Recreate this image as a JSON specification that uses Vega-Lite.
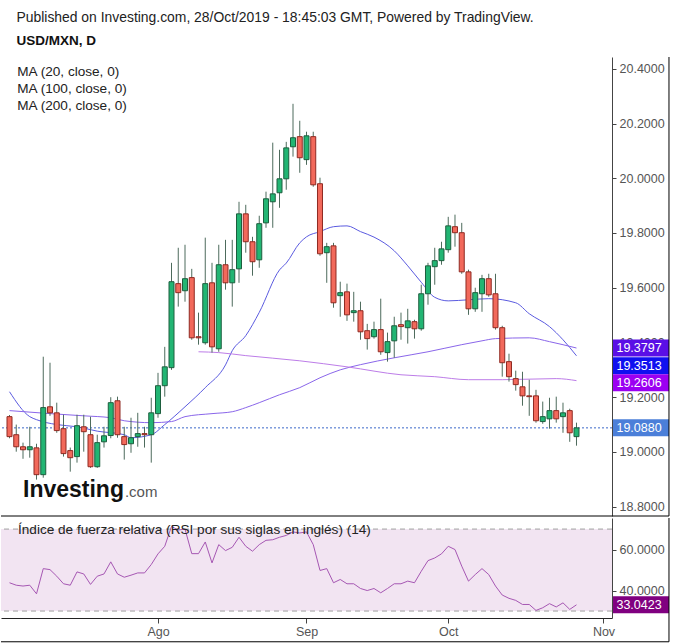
{
  "$schema": "https://vega.github.io/schema/vega-lite/v6.json",
  "padding": {"left": 0, "top": 11, "right": 0, "bottom": 0},
  "background": "white",
  "title": {"text": "Published on Investing.com, 28/Oct/2019 - 18:45:03 GMT, Powered by TradingView.", "subtitle": "USD/MXN, D", "anchor": "start", "dx": 16, "fontSize": 13.9, "fontWeight": "normal", "font": "Liberation Sans", "color": "#222222", "subtitleFontSize": 13.5, "subtitleFontWeight": "bold", "subtitleColor": "#111111", "subtitleFont": "Liberation Sans", "subtitlePadding": 9, "offset": 9},
  "spacing": 0,
  "config": {"view": {"stroke": null}, "font": "Liberation Sans", "axis": {"labelFont": "Liberation Sans", "labelFontSize": 12.5, "labelColor": "#555555", "domainColor": "#444444", "tickColor": "#444444", "grid": false, "title": null}},
  "datasets": {
    "one": [{}],
    "candles": [
      {"i":0,"o":19.129,"h":19.135,"l":19.05,"c":19.056},
      {"i":1,"o":19.063,"h":19.100,"l":19.001,"c":19.019},
      {"i":2,"o":19.019,"h":19.034,"l":18.975,"c":19.008},
      {"i":3,"o":19.008,"h":19.092,"l":18.979,"c":19.019},
      {"i":4,"o":19.015,"h":19.03,"l":18.899,"c":18.917},
      {"i":5,"o":18.917,"h":19.348,"l":18.906,"c":19.162},
      {"i":6,"o":19.165,"h":19.326,"l":19.132,"c":19.143},
      {"i":7,"o":19.143,"h":19.180,"l":19.070,"c":19.078},
      {"i":8,"o":19.085,"h":19.136,"l":18.983,"c":18.994},
      {"i":9,"o":19.005,"h":19.016,"l":18.928,"c":18.979},
      {"i":10,"o":18.983,"h":19.136,"l":18.961,"c":19.096},
      {"i":11,"o":19.092,"h":19.136,"l":19.001,"c":19.074},
      {"i":12,"o":19.063,"h":19.129,"l":18.942,"c":18.946},
      {"i":13,"o":18.946,"h":19.063,"l":18.942,"c":19.034},
      {"i":14,"o":19.037,"h":19.092,"l":19.016,"c":19.059},
      {"i":15,"o":19.06,"h":19.20,"l":19.05,"c":19.18},
      {"i":16,"o":19.187,"h":19.202,"l":19.052,"c":19.063},
      {"i":17,"o":19.056,"h":19.092,"l":18.972,"c":19.027},
      {"i":18,"o":19.030,"h":19.125,"l":18.997,"c":19.052},
      {"i":19,"o":19.056,"h":19.143,"l":19.019,"c":19.067},
      {"i":20,"o":19.067,"h":19.092,"l":19.016,"c":19.063},
      {"i":21,"o":19.063,"h":19.198,"l":18.961,"c":19.143},
      {"i":22,"o":19.140,"h":19.289,"l":19.125,"c":19.242},
      {"i":23,"o":19.242,"h":19.384,"l":19.202,"c":19.311},
      {"i":24,"o":19.308,"h":19.691,"l":19.30,"c":19.622},
      {"i":25,"o":19.615,"h":19.746,"l":19.531,"c":19.582},
      {"i":26,"o":19.589,"h":19.757,"l":19.549,"c":19.633},
      {"i":27,"o":19.637,"h":19.669,"l":19.410,"c":19.417},
      {"i":28,"o":19.421,"h":19.509,"l":19.392,"c":19.417},
      {"i":29,"o":19.399,"h":19.783,"l":19.392,"c":19.615},
      {"i":30,"o":19.618,"h":19.691,"l":19.363,"c":19.384},
      {"i":31,"o":19.377,"h":19.757,"l":19.366,"c":19.684},
      {"i":32,"o":19.684,"h":19.775,"l":19.593,"c":19.618},
      {"i":33,"o":19.618,"h":19.775,"l":19.531,"c":19.666},
      {"i":34,"o":19.669,"h":19.914,"l":19.618,"c":19.870},
      {"i":35,"o":19.870,"h":19.903,"l":19.728,"c":19.768},
      {"i":36,"o":19.768,"h":19.786,"l":19.644,"c":19.695},
      {"i":37,"o":19.702,"h":19.863,"l":19.673,"c":19.834},
      {"i":38,"o":19.837,"h":19.951,"l":19.819,"c":19.925},
      {"i":39,"o":19.914,"h":20.130,"l":19.819,"c":19.943},
      {"i":40,"o":19.947,"h":20.104,"l":19.892,"c":19.998},
      {"i":41,"o":19.998,"h":20.133,"l":19.958,"c":20.111},
      {"i":42,"o":20.115,"h":20.272,"l":20.079,"c":20.148},
      {"i":43,"o":20.152,"h":20.210,"l":20.020,"c":20.075},
      {"i":44,"o":20.068,"h":20.170,"l":20.049,"c":20.155},
      {"i":45,"o":20.152,"h":20.170,"l":19.969,"c":19.976},
      {"i":46,"o":19.980,"h":20.002,"l":19.717,"c":19.724},
      {"i":47,"o":19.728,"h":19.764,"l":19.618,"c":19.750},
      {"i":48,"o":19.753,"h":19.764,"l":19.527,"c":19.545},
      {"i":49,"o":19.571,"h":19.622,"l":19.494,"c":19.582},
      {"i":50,"o":19.585,"h":19.615,"l":19.479,"c":19.501},
      {"i":51,"o":19.509,"h":19.585,"l":19.476,"c":19.516},
      {"i":52,"o":19.516,"h":19.549,"l":19.410,"c":19.439},
      {"i":53,"o":19.443,"h":19.468,"l":19.374,"c":19.414},
      {"i":54,"o":19.421,"h":19.476,"l":19.414,"c":19.447},
      {"i":55,"o":19.447,"h":19.560,"l":19.355,"c":19.366},
      {"i":56,"o":19.363,"h":19.436,"l":19.330,"c":19.403},
      {"i":57,"o":19.406,"h":19.494,"l":19.344,"c":19.461},
      {"i":58,"o":19.465,"h":19.509,"l":19.410,"c":19.458},
      {"i":59,"o":19.454,"h":19.523,"l":19.396,"c":19.479},
      {"i":60,"o":19.476,"h":19.483,"l":19.414,"c":19.450},
      {"i":61,"o":19.450,"h":19.611,"l":19.443,"c":19.578},
      {"i":62,"o":19.578,"h":19.691,"l":19.538,"c":19.680},
      {"i":63,"o":19.677,"h":19.746,"l":19.611,"c":19.699},
      {"i":64,"o":19.699,"h":19.768,"l":19.684,"c":19.742},
      {"i":65,"o":19.739,"h":19.859,"l":19.728,"c":19.826},
      {"i":66,"o":19.823,"h":19.867,"l":19.750,"c":19.801},
      {"i":67,"o":19.801,"h":19.837,"l":19.651,"c":19.658},
      {"i":68,"o":19.658,"h":19.666,"l":19.501,"c":19.523},
      {"i":69,"o":19.523,"h":19.600,"l":19.512,"c":19.582},
      {"i":70,"o":19.578,"h":19.647,"l":19.512,"c":19.633},
      {"i":71,"o":19.633,"h":19.651,"l":19.567,"c":19.574},
      {"i":72,"o":19.578,"h":19.651,"l":19.447,"c":19.454},
      {"i":73,"o":19.454,"h":19.461,"l":19.275,"c":19.326},
      {"i":74,"o":19.330,"h":19.359,"l":19.257,"c":19.275},
      {"i":75,"o":19.268,"h":19.297,"l":19.224,"c":19.246},
      {"i":76,"o":19.238,"h":19.293,"l":19.169,"c":19.205},
      {"i":77,"o":19.205,"h":19.264,"l":19.132,"c":19.202},
      {"i":78,"o":19.205,"h":19.227,"l":19.107,"c":19.114},
      {"i":79,"o":19.111,"h":19.184,"l":19.103,"c":19.129},
      {"i":80,"o":19.121,"h":19.198,"l":19.085,"c":19.151},
      {"i":81,"o":19.151,"h":19.202,"l":19.107,"c":19.121},
      {"i":82,"o":19.129,"h":19.180,"l":19.070,"c":19.143},
      {"i":83,"o":19.151,"h":19.158,"l":19.037,"c":19.070},
      {"i":84,"o":19.056,"h":19.107,"l":19.023,"c":19.088}
    ],
    "ma": [
      {"ma":"MA20","i":0,"v":19.220},{"ma":"MA20","i":3,"v":19.129},{"ma":"MA20","i":4,"v":19.118},{"ma":"MA20","i":7,"v":19.100},
      {"ma":"MA20","i":10,"v":19.092},{"ma":"MA20","i":13,"v":19.076},{"ma":"MA20","i":17,"v":19.063},{"ma":"MA20","i":18,"v":19.052},
      {"ma":"MA20","i":21,"v":19.063},{"ma":"MA20","i":23,"v":19.100},{"ma":"MA20","i":26,"v":19.165},{"ma":"MA20","i":29,"v":19.235},
      {"ma":"MA20","i":32,"v":19.318},{"ma":"MA20","i":33,"v":19.37},{"ma":"MA20","i":35,"v":19.425},{"ma":"MA20","i":37,"v":19.51},
      {"ma":"MA20","i":40,"v":19.665},{"ma":"MA20","i":41,"v":19.69},{"ma":"MA20","i":43,"v":19.764},{"ma":"MA20","i":44,"v":19.786},
      {"ma":"MA20","i":46,"v":19.805},{"ma":"MA20","i":48,"v":19.823},{"ma":"MA20","i":50,"v":19.826},{"ma":"MA20","i":52,"v":19.805},
      {"ma":"MA20","i":54,"v":19.785},{"ma":"MA20","i":57,"v":19.735},{"ma":"MA20","i":59,"v":19.68},{"ma":"MA20","i":61,"v":19.62},
      {"ma":"MA20","i":63,"v":19.565},{"ma":"MA20","i":65,"v":19.552},{"ma":"MA20","i":68,"v":19.556},{"ma":"MA20","i":71,"v":19.560},
      {"ma":"MA20","i":75,"v":19.545},{"ma":"MA20","i":77,"v":19.505},{"ma":"MA20","i":80,"v":19.458},{"ma":"MA20","i":82,"v":19.41},
      {"ma":"MA20","i":84,"v":19.3513},
      {"ma":"MA100","i":0,"v":19.151},{"ma":"MA100","i":6,"v":19.140},{"ma":"MA100","i":11,"v":19.132},{"ma":"MA100","i":15,"v":19.125},
      {"ma":"MA100","i":17,"v":19.114},{"ma":"MA100","i":21,"v":19.107},{"ma":"MA100","i":24,"v":19.111},{"ma":"MA100","i":26,"v":19.129},
      {"ma":"MA100","i":30,"v":19.140},{"ma":"MA100","i":33,"v":19.147},{"ma":"MA100","i":35,"v":19.162},{"ma":"MA100","i":37,"v":19.180},
      {"ma":"MA100","i":40,"v":19.209},{"ma":"MA100","i":43,"v":19.235},{"ma":"MA100","i":46,"v":19.271},{"ma":"MA100","i":49,"v":19.300},
      {"ma":"MA100","i":52,"v":19.319},{"ma":"MA100","i":57,"v":19.344},{"ma":"MA100","i":62,"v":19.366},{"ma":"MA100","i":67,"v":19.392},
      {"ma":"MA100","i":70,"v":19.406},{"ma":"MA100","i":72,"v":19.414},{"ma":"MA100","i":77,"v":19.417},{"ma":"MA100","i":80,"v":19.403},
      {"ma":"MA100","i":84,"v":19.3797},
      {"ma":"MA200","i":28,"v":19.366},{"ma":"MA200","i":31,"v":19.363},{"ma":"MA200","i":35,"v":19.352},{"ma":"MA200","i":43,"v":19.333},
      {"ma":"MA200","i":50,"v":19.311},{"ma":"MA200","i":58,"v":19.282},{"ma":"MA200","i":63,"v":19.275},{"ma":"MA200","i":68,"v":19.264},
      {"ma":"MA200","i":73,"v":19.264},{"ma":"MA200","i":81,"v":19.268},{"ma":"MA200","i":84,"v":19.2606}
    ],
    "rsi": [
      {"i":0,"r":43.8},{"i":1,"r":42.6},{"i":2,"r":42.2},{"i":3,"r":42.6},{"i":4,"r":38.4},{"i":5,"r":50.7},{"i":6,"r":50.2},
      {"i":7,"r":47},{"i":8,"r":43.3},{"i":9,"r":42.6},{"i":10,"r":49.1},{"i":11,"r":48.1},{"i":12,"r":43},{"i":13,"r":47},
      {"i":14,"r":48.1},{"i":15,"r":54},{"i":16,"r":48.1},{"i":17,"r":46.5},{"i":18,"r":47.5},{"i":19,"r":48.6},{"i":20,"r":48.6},
      {"i":21,"r":52.7},{"i":22,"r":57.9},{"i":23,"r":61.6},{"i":24,"r":71.3},{"i":25,"r":69.5},{"i":26,"r":70},{"i":27,"r":58},
      {"i":28,"r":58},{"i":29,"r":63.7},{"i":30,"r":53.5},{"i":31,"r":62.4},{"i":32,"r":59.5},{"i":33,"r":61.1},{"i":34,"r":66},
      {"i":35,"r":61.6},{"i":36,"r":59.2},{"i":37,"r":62.4},{"i":38,"r":64.5},{"i":39,"r":64.8},{"i":40,"r":66},{"i":41,"r":66.9},
      {"i":42,"r":68.6},{"i":43,"r":68.1},{"i":44,"r":68.6},{"i":45,"r":62.4},{"i":46,"r":49.8},{"i":47,"r":50.7},{"i":48,"r":43.8},
      {"i":49,"r":45.4},{"i":50,"r":43.3},{"i":51,"r":43.3},{"i":52,"r":41},{"i":53,"r":40},{"i":54,"r":41},{"i":55,"r":38.9},
      {"i":56,"r":41},{"i":57,"r":43.3},{"i":58,"r":43.3},{"i":59,"r":44.6},{"i":60,"r":43.8},{"i":61,"r":49.4},{"i":62,"r":54.6},
      {"i":63,"r":55.9},{"i":64,"r":57.9},{"i":65,"r":61.6},{"i":66,"r":60},{"i":67,"r":51.9},{"i":68,"r":44.6},{"i":69,"r":47.8},
      {"i":70,"r":50.7},{"i":71,"r":47.8},{"i":72,"r":42.2},{"i":73,"r":37.8},{"i":74,"r":36.2},{"i":75,"r":35.2},{"i":76,"r":33.2},
      {"i":77,"r":33.2},{"i":78,"r":30.3},{"i":79,"r":31.6},{"i":80,"r":33.6},{"i":81,"r":32},{"i":82,"r":34},{"i":83,"r":30.8},
      {"i":84,"r":33.0423}
    ]
  },
  "vconcat": [
    {
      "width": 611,
      "height": 459,
      "layer": [
        {
          "data": {"name": "ma"},
          "mark": {"type": "line", "interpolate": "monotone", "strokeWidth": 1},
          "encoding": {
            "x": {"field": "i", "type": "quantitative", "scale": {"domain": [-1.26, 89.26], "nice": false, "zero": false, "padding": 0}, "axis": null},
            "y": {"field": "v", "type": "quantitative", "scale": {"domain": [18.766, 20.443], "nice": false, "zero": false, "padding": 0},
                  "axis": {"orient": "right", "values": [18.8, 19.0, 19.2, 19.4, 19.6, 19.8, 20.0, 20.2, 20.4], "format": ".4f", "tickSize": 4, "labelPadding": 3}},
            "color": {"field": "ma", "type": "nominal", "scale": {"domain": ["MA20", "MA100", "MA200"], "range": ["#5b5be0", "#8a66ea", "#bd7de8"]}, "legend": null}
          }
        },
        {
          "data": {"name": "one"},
          "mark": {"type": "rule", "color": "#3a68c8", "strokeDash": [2, 2], "strokeWidth": 1},
          "encoding": {"y": {"datum": 19.088}}
        },
        {
          "data": {"name": "candles"},
          "mark": {"type": "rule", "color": "#4d6b5c", "strokeWidth": 1},
          "encoding": {
            "x": {"field": "i", "type": "quantitative", "axis": null},
            "y": {"field": "l", "type": "quantitative"},
            "y2": {"field": "h"}
          }
        },
        {
          "data": {"name": "candles"},
          "mark": {"type": "bar", "width": 5, "strokeWidth": 1},
          "encoding": {
            "x": {"field": "i", "type": "quantitative", "axis": null},
            "y": {"field": "o", "type": "quantitative"},
            "y2": {"field": "c"},
            "fill": {"condition": {"test": "datum.c >= datum.o", "value": "#22b573"}, "value": "#f2695b"},
            "stroke": {"condition": {"test": "datum.c >= datum.o", "value": "#1d5e3e"}, "value": "#8f2a22"}
          }
        },
        {
          "data": {"name": "one"},
          "mark": {"type": "text", "text": ["MA (20, close, 0)", "MA (100, close, 0)", "MA (200, close, 0)"], "align": "left", "baseline": "top", "fontSize": 13.6, "lineHeight": 17, "color": "#222222"},
          "encoding": {"x": {"datum": 1.15, "axis": null}, "y": {"datum": 20.413}}
        },
        {
          "data": {"name": "one"},
          "mark": {"type": "text", "text": "Investing", "align": "left", "baseline": "alphabetic", "fontSize": 23, "fontWeight": "bold", "color": "#111111"},
          "encoding": {"x": {"datum": 2.0, "axis": null}, "y": {"datum": 18.837}}
        },
        {
          "data": {"name": "one"},
          "mark": {"type": "text", "text": ".com", "align": "left", "baseline": "alphabetic", "fontSize": 15, "color": "#555555"},
          "encoding": {"x": {"datum": 17.1, "axis": null}, "y": {"datum": 18.837}}
        },
        {
          "data": {"name": "one"},
          "mark": {"type": "rect", "color": "#5a0fe6", "yOffset": -8.5, "y2Offset": 8.5},
          "encoding": {"x": {"datum": 89.41, "axis": null}, "x2": {"datum": 97.7}, "y": {"datum": 19.3797}, "y2": {"datum": 19.3797}}
        },
        {
          "data": {"name": "one"},
          "mark": {"type": "text", "text": "19.3797", "align": "left", "baseline": "middle", "fontSize": 12.5, "color": "#ffffff"},
          "encoding": {"x": {"datum": 89.92, "axis": null}, "y": {"datum": 19.3797}}
        },
        {
          "data": {"name": "one"},
          "mark": {"type": "rect", "color": "#1010f0", "yOffset": 1.5, "y2Offset": 18.5},
          "encoding": {"x": {"datum": 89.41, "axis": null}, "x2": {"datum": 97.7}, "y": {"datum": 19.3513}, "y2": {"datum": 19.3513}}
        },
        {
          "data": {"name": "one"},
          "mark": {"type": "text", "text": "19.3513", "align": "left", "baseline": "middle", "fontSize": 12.5, "color": "#ffffff", "dy": 10},
          "encoding": {"x": {"datum": 89.92, "axis": null}, "y": {"datum": 19.3513}}
        },
        {
          "data": {"name": "one"},
          "mark": {"type": "rect", "color": "#9b00f2", "yOffset": -6.5, "y2Offset": 10.5},
          "encoding": {"x": {"datum": 89.41, "axis": null}, "x2": {"datum": 97.7}, "y": {"datum": 19.2606}, "y2": {"datum": 19.2606}}
        },
        {
          "data": {"name": "one"},
          "mark": {"type": "text", "text": "19.2606", "align": "left", "baseline": "middle", "fontSize": 12.5, "color": "#ffffff", "dy": 2},
          "encoding": {"x": {"datum": 89.92, "axis": null}, "y": {"datum": 19.2606}}
        },
        {
          "data": {"name": "one"},
          "mark": {"type": "rect", "color": "#4b7fd9", "yOffset": -8.5, "y2Offset": 8.5},
          "encoding": {"x": {"datum": 89.41, "axis": null}, "x2": {"datum": 97.7}, "y": {"datum": 19.088}, "y2": {"datum": 19.088}}
        },
        {
          "data": {"name": "one"},
          "mark": {"type": "text", "text": "19.0880", "align": "left", "baseline": "middle", "fontSize": 12.5, "color": "#ffffff"},
          "encoding": {"x": {"datum": 89.92, "axis": null}, "y": {"datum": 19.088}}
        },
        {
          "data": {"name": "one"},
          "mark": {"type": "rule", "color": "#000000", "strokeWidth": 1},
          "encoding": {"x": {"datum": -1.26, "axis": null}, "x2": {"datum": 97.7}, "y": {"datum": 18.766}}
        },
        {
          "data": {"name": "one"},
          "mark": {"type": "rule", "color": "#000000", "strokeWidth": 1},
          "encoding": {"x": {"datum": 97.7, "axis": null}, "y": {"datum": 18.766}, "y2": {"datum": 20.443}}
        }
      ]
    },
    {
      "width": 611,
      "height": 100,
      "layer": [
        {
          "data": {"name": "one"},
          "mark": {"type": "rect", "color": "#f2e4f2"},
          "encoding": {
            "x": {"datum": -1.26, "type": "quantitative", "scale": {"domain": [-1.26, 89.26], "nice": false, "zero": false, "padding": 0}},
            "x2": {"datum": 89.26},
            "y": {"datum": 70, "type": "quantitative", "scale": {"domain": [26.6, 75.4], "nice": false, "zero": false, "padding": 0}},
            "y2": {"datum": 30}
          }
        },
        {
          "data": {"values": [{"band": 70}, {"band": 30}]},
          "mark": {"type": "rule", "color": "#a0a0a0", "strokeDash": [5, 4], "strokeWidth": 1},
          "encoding": {"y": {"field": "band", "type": "quantitative"}}
        },
        {
          "data": {"name": "rsi"},
          "mark": {"type": "line", "color": "#a657b3", "strokeWidth": 1},
          "encoding": {
            "x": {"field": "i", "type": "quantitative",
                  "axis": {"orient": "bottom", "values": [22, 44, 65, 88], "labelExpr": "datum.value == 22 ? 'Ago' : datum.value == 44 ? 'Sep' : datum.value == 65 ? 'Oct' : 'Nov'", "tickSize": 5, "labelPadding": 2, "domainColor": "#222222"}},
            "y": {"field": "r", "type": "quantitative",
                  "axis": {"orient": "right", "values": [40, 60], "format": ".4f", "tickSize": 4, "labelPadding": 3}}
          }
        },
        {
          "data": {"name": "one"},
          "mark": {"type": "text", "text": "Índice de fuerza relativa (RSI por sus siglas en inglés) (14)", "align": "left", "baseline": "middle", "fontSize": 13.6, "color": "#222222"},
          "encoding": {"x": {"datum": 1.26}, "y": {"datum": 69.5}}
        },
        {
          "data": {"name": "one"},
          "mark": {"type": "rect", "color": "#800080", "yOffset": -8.5, "y2Offset": 8.5},
          "encoding": {"x": {"datum": 89.41}, "x2": {"datum": 97.7}, "y": {"datum": 33.0423}, "y2": {"datum": 33.0423}}
        },
        {
          "data": {"name": "one"},
          "mark": {"type": "text", "text": "33.0423", "align": "left", "baseline": "middle", "fontSize": 12.5, "color": "#ffffff"},
          "encoding": {"x": {"datum": 89.92}, "y": {"datum": 33.0423}}
        },
        {
          "data": {"name": "one"},
          "mark": {"type": "rule", "color": "#000000", "strokeWidth": 1},
          "encoding": {"x": {"datum": 97.7}, "y": {"datum": 15}, "y2": {"datum": 75.4}}
        },
        {
          "data": {"name": "one"},
          "mark": {"type": "rule", "color": "#000000", "strokeWidth": 1},
          "encoding": {"x": {"datum": -1.26}, "x2": {"datum": 97.7}, "y": {"datum": 15}}
        }
      ]
    }
  ]
}
